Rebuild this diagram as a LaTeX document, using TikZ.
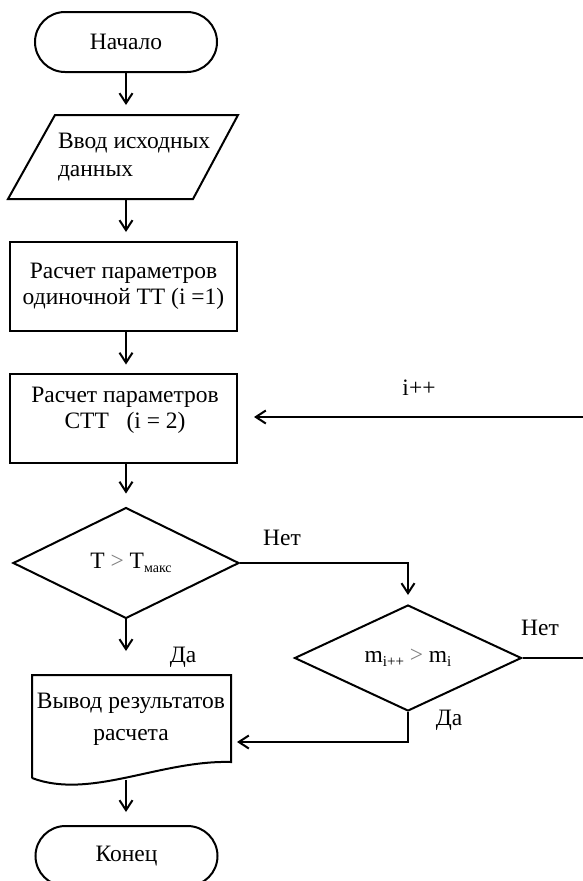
\documentclass[tikz,border=0pt]{standalone}
\usepackage{fontspec}
\setmainfont{Liberation Serif}
\usetikzlibrary{arrows.meta,shapes.geometric,shapes.misc}

\begin{document}
\begin{tikzpicture}[x=1pt,y=-1pt,
  line width=2pt,
  every node/.style={font=\fontsize{23.5}{26}\selectfont},
  flow/.style={-{Straight Barb[length=10pt,width=13pt]}},
  term/.style={draw, rounded rectangle, minimum width=182pt, minimum height=60pt, inner sep=0pt},
  procbox/.style={draw, rectangle, minimum width=227pt, minimum height=89pt, inner sep=0pt},
  decision/.style={draw, diamond, inner sep=0pt},
  lbl/.style={inner sep=0pt},
]
\useasboundingbox (0,0) rectangle (583,881);
\clip (0,0) rectangle (583,881);

% start
\node[term] (start) at (126,42) {Начало};

% input parallelogram
\coordinate (inA) at (55,115);
\coordinate (inB) at (238,115);
\coordinate (inC) at (193,199);
\coordinate (inD) at (8,199);
\coordinate (inTop) at (126,115);
\coordinate (inBot) at (126,199);
\draw (inA) -- (inB) -- (inC) -- (inD) -- cycle;
\node[lbl, align=left, anchor=west] (input) at (57,157) {Ввод исходных\\[2pt]данных};

% single-stage calculation
\node[procbox, align=center] (calc1) at (123.5,286.5) {Расчет параметров\\одиночной ТТ (i =1)};

% multi-stage calculation
\node[procbox] (calc2) at (123.5,418) {};
\node[lbl, align=center] (calc2txt) at (125,410) {Расчет параметров\\СТТ\ \ \ (i = 2)};

% decisions
\node[decision, minimum width=226pt, minimum height=105pt] (dec1) at (126,563)
  {\hspace{10pt}T {\color{gray}>} T\raisebox{-4pt}{\fontsize{14}{14}\selectfont макс}};
\node[decision, minimum width=227pt, minimum height=106pt] (dec2) at (408,658)
  {m\raisebox{-4pt}{\fontsize{15}{15}\selectfont i++} {\color{gray}>} m\raisebox{-4pt}{\fontsize{15}{15}\selectfont i}};

% output document
\coordinate (oTL) at (32,675);
\coordinate (oTR) at (231,675);
\coordinate (oBR) at (231,762);
\coordinate (oBL) at (32,778);
\coordinate (oTop) at (126,675);
\coordinate (oBot) at (126,780);
\coordinate (oIn) at (231,742);
\draw (oBL) -- (oTL) -- (oTR) -- (oBR) .. controls (160,760) and (90,800) .. (oBL);
\node[lbl, align=center] (outtxt) at (131,719) {Вывод результатов\\[6pt]расчета};

% end
\node[term] (finish) at (126.5,856) {Конец};

% connectors
\draw[flow, shorten >=10pt] (start) -- (inTop);
\draw[flow, shorten >=9pt] (inBot) -- (calc1.north -| inBot);
\draw[flow, shorten >=8pt] (calc1.south -| inBot) -- (calc2.north -| inBot);
\draw[flow, shorten >=13pt] (calc2.south -| inBot) -- (dec1.north);
\draw[flow, shorten >=24pt] (dec1.south) -- (oTop);
\draw[flow, shorten >=13pt] (oBot) -- (finish.north -| oBot);
\draw[flow, shorten >=9pt] (dec1.east) -| (dec2.north);
\draw[flow, shorten >=6pt] (dec2.south) |- (oIn);

\coordinate (edgeLow) at (583,658);
\coordinate (edgeHigh) at (583,417);
\draw (dec2.east) -- (edgeLow);
\draw[flow, shorten >=16pt] (edgeHigh) -- (calc2.east |- edgeHigh);

% labels
\node[lbl] (no1) at (282,538) {Нет};
\node[lbl] (yes1) at (183,657) {Да};
\node[lbl] (no2) at (540,628) {Нет};
\node[lbl] (yes2) at (449,720) {Да};
\node[lbl] (inc) at (419,388) {i++};
\end{tikzpicture}
\end{document}
